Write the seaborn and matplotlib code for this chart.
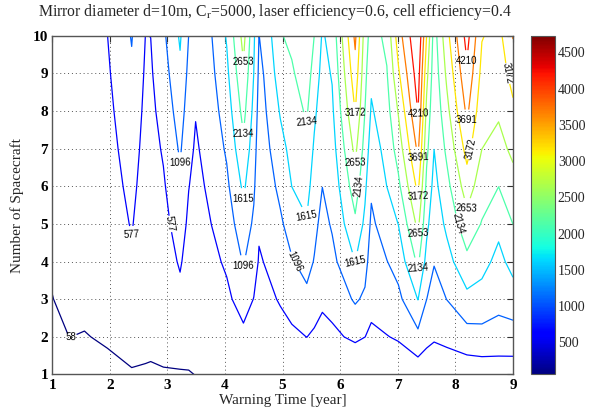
import numpy as np
import matplotlib
matplotlib.use("Agg")
import matplotlib.pyplot as plt
import seaborn as sns
from matplotlib.colors import Normalize
from matplotlib.cm import ScalarMappable

# Warning time grid [year] (columns of the sampled surface)
warning_time = [1.00, 1.30, 1.56, 1.96, 2.38, 2.62, 2.71, 2.93, 3.22, 3.37,
                3.49, 3.77, 4.03, 4.32, 4.50, 4.59, 4.67, 4.96, 5.16, 5.42,
                5.55, 5.69, 5.86, 6.26, 6.43, 6.54, 6.81, 7.01, 7.35, 7.50,
                7.63, 7.85, 8.20, 8.46, 8.75, 9.00]
# Number of spacecraft (rows)
n_spacecraft = [1, 2, 3, 4, 5, 6, 7, 8, 9, 10]
# Surface values, one list per warning time (N = 1..10)
values = [
    [0, 27, 54, 82, 110, 138, 166, 194, 222, 250],
    [0, 59, 104, 149, 194, 239, 285, 330, 375, 420],
    [0, 50, 102, 154, 207, 260, 312, 365, 417, 470],
    [10, 79, 141, 203, 265, 328, 390, 452, 515, 575],
    [30, 183, 332, 480, 613, 715, 818, 920, 1022, 1125],
    [40, 102, 160, 219, 277, 336, 394, 453, 511, 570],
    [35, 102, 161, 221, 281, 341, 401, 460, 520, 580],
    [40, 132, 229, 326, 422, 519, 627, 751, 876, 1000],
    [30, 232, 436, 632, 809, 986, 1162, 1336, 1511, 1680],
    [45, 157, 265, 372, 480, 590, 716, 843, 969, 1090],
    [62, 138, 214, 290, 366, 442, 518, 600, 700, 800],
    [100, 221, 343, 464, 584, 687, 789, 891, 994, 1090],
    [140, 308, 476, 646, 819, 992, 1163, 1330, 1498, 1660],
    [150, 455, 789, 1133, 1418, 1711, 2020, 2303, 2572, 2830],
    [200, 382, 564, 784, 1007, 1182, 1327, 1471, 1610, 1700],
    [250, 346, 442, 539, 632, 724, 815, 907, 998, 1090],
    [260, 366, 471, 580, 681, 785, 888, 992, 1100, 1180],
    [290, 445, 607, 808, 1010, 1221, 1440, 1659, 1880, 2100],
    [320, 494, 741, 1055, 1337, 1618, 1769, 1924, 2078, 2230],
    [250, 581, 962, 1283, 1572, 1789, 1995, 2193, 2376, 2560],
    [300, 513, 779, 1067, 1233, 1386, 1539, 1719, 1926, 2130],
    [320, 476, 631, 786, 941, 1100, 1212, 1328, 1444, 1560],
    [300, 494, 715, 956, 1149, 1275, 1401, 1527, 1653, 1780],
    [150, 655, 1164, 1620, 2030, 2410, 2790, 3188, 3502, 3800],
    [150, 580, 1010, 1277, 1502, 1719, 1926, 2130, 2267, 2400],
    [250, 507, 691, 847, 1002, 1173, 1365, 1557, 1732, 1900],
    [260, 562, 824, 1083, 1349, 1618, 1777, 1939, 2102, 2260],
    [250, 622, 968, 1299, 1623, 2016, 2361, 2693, 3092, 3450],
    [250, 954, 1627, 2234, 2784, 3306, 3804, 4235, 4482, 4729],
    [260, 712, 1100, 1442, 1745, 2004, 2264, 2523, 2826, 3170],
    [270, 626, 884, 1125, 1289, 1452, 1618, 1710, 1805, 1900],
    [280, 692, 1102, 1423, 1719, 1978, 2238, 2497, 2752, 3000],
    [240, 888, 1475, 1997, 2469, 2908, 3358, 3794, 4114, 4400],
    [260, 930, 1415, 1784, 2102, 2380, 2655, 2838, 3024, 3200],
    [280, 888, 1250, 1470, 1747, 2138, 2480, 2722, 2861, 3000],
    [300, 873, 1377, 1786, 2138, 2458, 2768, 3057, 3380, 3720],
]
contour_levels = [58, 577, 1096, 1615, 2134, 2653, 3172, 3691, 4210]
value_min, value_max = 58, 4729
cbar_ticks = [500, 1000, 1500, 2000, 2500, 3000, 3500, 4000, 4500]

sns.set_style("white")
plt.rcParams['font.family'] = ['Liberation Serif', 'DejaVu Serif']
plt.rcParams['mathtext.fontset'] = 'stix'

X, Y = np.meshgrid(np.array(warning_time), np.array(n_spacecraft))
Z = np.array(values, dtype=float).T

fig = plt.figure(figsize=(6, 4.17), dpi=100)
ax = fig.add_axes([0.087, 0.102, 0.768, 0.812])
cax = fig.add_axes([0.885, 0.102, 0.040, 0.812])

norm = Normalize(value_min, value_max)
cs = ax.contour(X, Y, Z, levels=contour_levels, cmap='jet', norm=norm,
                linewidths=0.9)
ax.clabel(cs, fmt='%d', fontsize=7, inline=True, inline_spacing=1,
          colors='k')
for t in cs.labelTexts:
    t.set_family(['Liberation Sans', 'DejaVu Sans'])

ax.set_xlim(1, 9)
ax.set_ylim(1, 10)
ax.set_xticks(range(1, 10))
ax.set_yticks(range(1, 11))
ax.grid(True, linestyle=(0, (1, 3)), color='#555555', linewidth=0.7)
ax.tick_params(direction='in', length=4, width=0.8, top=True, right=True,
               labelsize=11, pad=3, colors='#333333', labelcolor='black')
for lab in ax.get_xticklabels() + ax.get_yticklabels():
    lab.set_fontweight('bold')
for s in ax.spines.values():
    s.set_color('#555555')
    s.set_linewidth(1.0)
ax.set_xlabel('Warning Time [year]', fontsize=11, labelpad=2)
ax.set_ylabel('Number of Spacecraft', fontsize=11, labelpad=6)

sm = ScalarMappable(norm=norm, cmap='jet')
cb = fig.colorbar(sm, cax=cax, ticks=cbar_ticks)
cb.outline.set_edgecolor('#555555')
cb.ax.tick_params(direction='in', length=3, width=0.8, left=True, right=True,
                  labelsize=10, pad=2)

fig.text(0.458, 0.972,
         r'Mirror diameter d=10m, C$_{\rm r}$=5000, laser efficiency=0.6, cell efficiency=0.4',
         ha='center', va='center', fontsize=11.3)

fig.savefig("out.png", dpi=100)
